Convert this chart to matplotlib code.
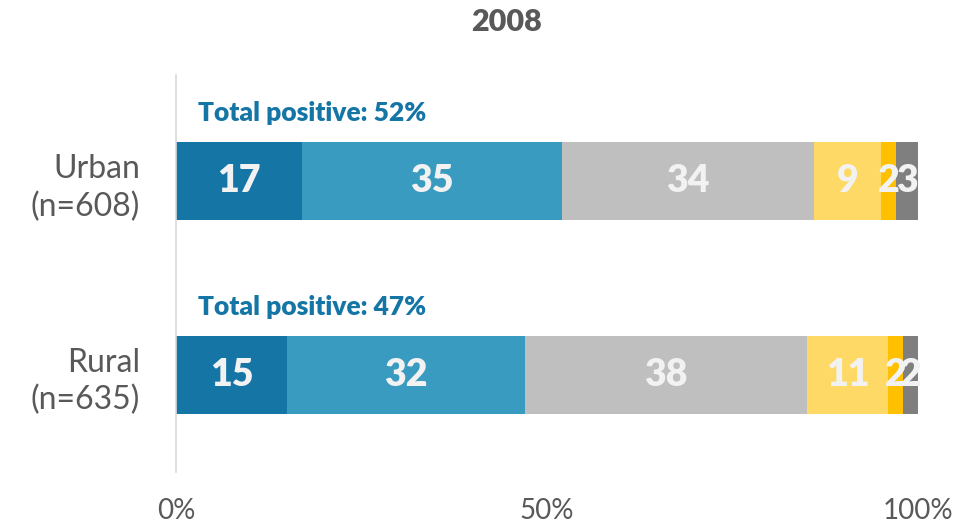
import matplotlib
matplotlib.use("Agg")
import numpy as np
import matplotlib.pyplot as plt

plt.rcParams['font.family'] = ['Lato', 'DejaVu Sans']

title = "2008"
groups = ["Urban\n(n=608)", "Rural\n(n=635)"]
urban = [17, 35, 34, 9, 2, 3]
rural = [15, 32, 38, 11, 2, 2]
positive = [52, 47]
colors = ['#1576a6', '#3a9bc1', '#bfbfbf', '#ffd966', '#ffc000', '#7f7f7f']
xticks = [0, 50, 100]
xticklabels = ['0%', '50%', '100%']

fig = plt.figure(figsize=(9.71, 5.26), dpi=100)
ax = fig.add_axes([0.1813, 0.1027, 0.7641, 0.7543])

ypos = [1, 0]
data = np.array([urban, rural])
left = np.zeros(2)
for j in range(data.shape[1]):
    vals = data[:, j]
    ax.barh(ypos, vals, left=left, height=0.40, color=colors[j], edgecolor='none')
    for y, l, v in zip(ypos, left, vals):
        ax.text(l + v / 2, y, str(v), ha='center', va='center',
                color='#f2f2f2', fontsize=27, fontweight='heavy')
    left += vals

for y, p in zip(ypos, positive):
    ax.text(3, y + 0.35, f"Total positive: {p}%", ha='left', va='center',
            color='#1576a6', fontsize=19, fontweight='heavy')

ax.set_xlim(0, 100)
ax.set_ylim(-0.5, 1.546)
ax.set_yticks(ypos)
ax.set_yticklabels(groups, fontsize=23, color='#595959', linespacing=1.3)
ax.set_xticks(xticks)
ax.set_xticklabels(xticklabels, fontsize=20, color='#595959')
ax.tick_params(axis='x', length=0, pad=19)
ax.tick_params(axis='y', length=0, pad=26)
for s in ['top', 'right', 'bottom']:
    ax.spines[s].set_visible(False)
ax.spines['left'].set_color('#d9d9d9')
ax.spines['left'].set_linewidth(1.2)

fig.suptitle(title, x=0.522, y=0.985, fontsize=22, fontweight='heavy', color='#595959')

plt.savefig('out.png', dpi=100)
